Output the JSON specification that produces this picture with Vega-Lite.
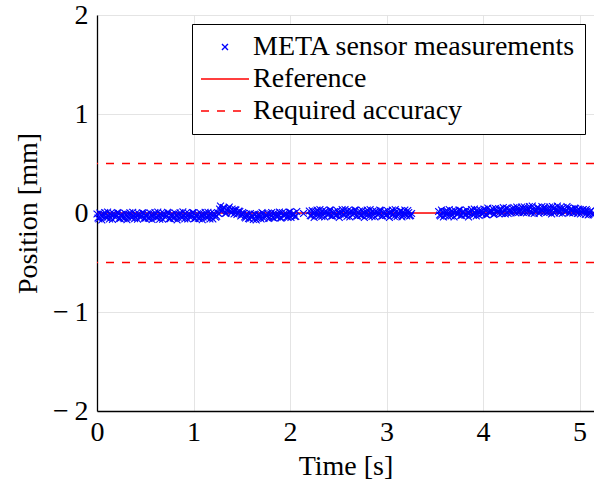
{
  "$schema": "https://vega.github.io/schema/vega-lite/v6.json",
  "width": 497,
  "height": 396,
  "autosize": "none",
  "padding": {"left": 97, "top": 15, "right": 0, "bottom": 75},
  "background": "white",
  "config": {
    "font": "Liberation Serif, Times New Roman, Tinos, DejaVu Serif, serif",
    "view": {"stroke": null},
    "axis": {
      "labelFont": "Liberation Serif, Times New Roman, Tinos, DejaVu Serif, serif",
      "titleFont": "Liberation Serif, Times New Roman, Tinos, DejaVu Serif, serif",
      "labelFontSize": 28, "titleFontSize": 28, "titleFontWeight": "normal",
      "labelColor": "black", "titleColor": "black",
      "domainColor": "black", "domainWidth": 1.3,
      "gridColor": "#dddddd", "gridWidth": 0.8, "ticks": false
    },
    "legend": {
      "orient": "top-right", "offset": 9, "title": null,
      "strokeColor": "black", "fillColor": "white", "padding": 9,
      "labelFont": "Liberation Serif, Times New Roman, Tinos, DejaVu Serif, serif",
      "labelFontSize": 28, "labelColor": "black",
      "labelLimit": 600, "symbolSize": 400, "symbolStrokeWidth": 1.4,
      "rowPadding": 4, "labelOffset": 14, "symbolOffset": 10
    }
  },
  "encoding": {
    "color": {"field": "series", "type": "nominal",
      "scale": {"domain": ["META sensor measurements", "Reference", "Required accuracy"], "range": ["#0000ff", "#ff0000", "#ff0000"]},
      "legend": {"title": null, "labelExpr": "datum.label + '   '"}},
    "shape": {"field": "series", "type": "nominal",
      "scale": {"domain": ["META sensor measurements", "Reference", "Required accuracy"], "range": ["M-0.3,-0.3L0.3,0.3M-0.3,0.3L0.3,-0.3", "M-2.4,0L2.4,0", "M-2.4,0L2.4,0"]},
      "legend": {"title": null, "labelExpr": "datum.label + '   '"}},
    "strokeDash": {"field": "series", "type": "nominal",
      "scale": {"domain": ["META sensor measurements", "Reference", "Required accuracy"], "range": [[1,0],[1,0],[8,8]]},
      "legend": {"title": null, "labelExpr": "datum.label + '   '"}}
  },
  "layer": [
    {
      "data": {"values": [
        {"series": "Required accuracy", "v": 0.5},
        {"series": "Required accuracy", "v": -0.5},
        {"series": "Reference", "v": 0}
      ]},
      "mark": {"type": "rule", "strokeWidth": 1.3},
      "encoding": {
        "y": {"field": "v", "type": "quantitative",
          "scale": {"domain": [-2, 2], "nice": false},
          "axis": {"title": "Position [mm]", "values": [-2,-1,0,1,2], "labelExpr": "datum.value < 0 ? '\u2212\u2009' + format(-datum.value, 'd') : format(datum.value, 'd')", "labelPadding": 9, "titlePadding": 10, "grid": true}}
      }
    },
    {
      "data": {"values": [
        {"t":0,"p":-0.01},{"t":0.02,"p":-0.06},{"t":0.04,"p":-0.02},{"t":0.06,"p":-0.04},{"t":0.08,"p":0.005},{"t":0.1,"p":-0.05},{"t":0.12,"p":-0.03},{"t":0.14,"p":-0.005},{"t":0.16,"p":-0.065},{"t":0.18,"p":-0.015},{"t":0.2,"p":-0.035},{"t":0.22,"p":0.0},{"t":0.24,"p":-0.055},
        {"t":0.26,"p":-0.012},{"t":0.28,"p":-0.058},{"t":0.3,"p":-0.018},{"t":0.32,"p":-0.042},{"t":0.34,"p":0.002},{"t":0.36,"p":-0.048},{"t":0.38,"p":-0.028},{"t":0.4,"p":-0.008},{"t":0.42,"p":-0.062},{"t":0.44,"p":-0.017},{"t":0.46,"p":-0.037},{"t":0.48,"p":-0.003},{"t":0.5,"p":-0.052},
        {"t":0.52,"p":-0.009},{"t":0.54,"p":-0.056},{"t":0.56,"p":-0.022},{"t":0.58,"p":-0.038},{"t":0.6,"p":0.004},{"t":0.62,"p":-0.047},{"t":0.64,"p":-0.031},{"t":0.66,"p":-0.006},{"t":0.68,"p":-0.063},{"t":0.7,"p":-0.013},{"t":0.72,"p":-0.033},{"t":0.74,"p":-0.001},{"t":0.76,"p":-0.057},
        {"t":0.78,"p":-0.011},{"t":0.8,"p":-0.054},{"t":0.82,"p":-0.021},{"t":0.84,"p":-0.043},{"t":0.86,"p":0.003},{"t":0.88,"p":-0.049},{"t":0.9,"p":-0.027},{"t":0.92,"p":-0.004},{"t":0.94,"p":-0.061},{"t":0.96,"p":-0.016},{"t":0.98,"p":-0.036},{"t":1.0,"p":0.001},{"t":1.02,"p":-0.053},
        {"t":1.04,"p":-0.008},{"t":1.06,"p":-0.057},{"t":1.08,"p":-0.019},{"t":1.1,"p":-0.041},{"t":1.12,"p":0.006},{"t":1.14,"p":-0.046},{"t":1.16,"p":-0.029},{"t":1.18,"p":-0.002},{"t":1.2,"p":-0.06},{"t":1.22,"p":-0.014},{"t":1.24,"p":-0.032},
        {"t":1.26,"p":-0.005},{"t":1.28,"p":0.07},{"t":1.3,"p":0.035},{"t":1.32,"p":0.05},{"t":1.34,"p":0.0},{"t":1.36,"p":0.045},{"t":1.38,"p":0.02},{"t":1.4,"p":0.04},{"t":1.42,"p":-0.01},{"t":1.44,"p":0.03},{"t":1.46,"p":-0.005},{"t":1.48,"p":0.015},{"t":1.5,"p":-0.02},{"t":1.52,"p":-0.005},{"t":1.54,"p":-0.05},{"t":1.56,"p":-0.02},{"t":1.58,"p":-0.06},{"t":1.6,"p":-0.03},
        {"t":1.62,"p":-0.065},{"t":1.64,"p":-0.015},{"t":1.66,"p":-0.05},{"t":1.68,"p":-0.02},{"t":1.7,"p":-0.06},{"t":1.72,"p":-0.005},{"t":1.74,"p":-0.04},{"t":1.76,"p":-0.025},{"t":1.78,"p":-0.055},{"t":1.8,"p":-0.01},{"t":1.82,"p":-0.045},{"t":1.84,"p":0.0},{"t":1.86,"p":-0.035},{"t":1.88,"p":-0.015},{"t":1.9,"p":-0.05},{"t":1.92,"p":0.005},{"t":1.94,"p":-0.03},{"t":1.96,"p":-0.01},{"t":1.98,"p":-0.045},{"t":2.0,"p":0.01},{"t":2.02,"p":-0.025},{"t":2.04,"p":-0.005},{"t":2.06,"p":-0.035},
        {"t":2.14,"p":-0.005},
        {"t":2.2,"p":0.02},{"t":2.22,"p":-0.03},{"t":2.24,"p":0.01},{"t":2.26,"p":-0.02},{"t":2.28,"p":0.03},{"t":2.3,"p":-0.035},{"t":2.32,"p":0.0},{"t":2.34,"p":0.025},{"t":2.36,"p":-0.04},{"t":2.38,"p":0.01},{"t":2.4,"p":-0.015},{"t":2.42,"p":0.03},{"t":2.44,"p":-0.03},{"t":2.46,"p":0.015},{"t":2.48,"p":-0.025},{"t":2.5,"p":0.005},
        {"t":2.52,"p":-0.01},{"t":2.54,"p":0.035},{"t":2.56,"p":-0.02},{"t":2.58,"p":0.0},{"t":2.6,"p":0.025},{"t":2.62,"p":-0.04},{"t":2.64,"p":0.015},{"t":2.66,"p":-0.005},{"t":2.68,"p":0.03},{"t":2.7,"p":-0.03},{"t":2.72,"p":0.02},{"t":2.74,"p":-0.025},{"t":2.76,"p":0.005},{"t":2.78,"p":-0.015},{"t":2.8,"p":0.03},
        {"t":2.82,"p":-0.035},{"t":2.84,"p":0.0},{"t":2.86,"p":0.02},{"t":2.88,"p":-0.04},{"t":2.9,"p":0.01},{"t":2.92,"p":-0.01},{"t":2.94,"p":0.025},{"t":2.96,"p":-0.03},{"t":2.98,"p":0.015},{"t":3.0,"p":-0.02},{"t":3.02,"p":0.0},{"t":3.04,"p":-0.005},{"t":3.06,"p":0.03},{"t":3.08,"p":-0.035},
        {"t":3.1,"p":0.01},{"t":3.12,"p":-0.02},{"t":3.14,"p":0.02},{"t":3.16,"p":-0.04},{"t":3.18,"p":0.005},{"t":3.2,"p":-0.015},{"t":3.22,"p":0.025},{"t":3.24,"p":-0.03},{"t":3.26,"p":-0.005},
        {"t":3.54,"p":0.015},{"t":3.56,"p":-0.03},{"t":3.58,"p":0.01},{"t":3.6,"p":-0.02},{"t":3.62,"p":0.025},{"t":3.64,"p":-0.035},{"t":3.66,"p":0.005},{"t":3.68,"p":0.02},{"t":3.7,"p":-0.04},{"t":3.72,"p":0.01},{"t":3.74,"p":-0.01},{"t":3.76,"p":0.03},{"t":3.78,"p":-0.025},{"t":3.8,"p":0.015},{"t":3.82,"p":-0.02},{"t":3.84,"p":0.005},{"t":3.86,"p":-0.005},{"t":3.88,"p":0.035},{"t":3.9,"p":-0.02},
        {"t":3.92,"p":0.0},{"t":3.94,"p":0.03},{"t":3.96,"p":-0.025},{"t":3.98,"p":0.02},{"t":4.0,"p":-0.005},{"t":4.02,"p":0.035},{"t":4.04,"p":-0.02},{"t":4.06,"p":0.015},{"t":4.08,"p":0.01},{"t":4.1,"p":0.045},{"t":4.12,"p":-0.01},{"t":4.14,"p":0.03},{"t":4.16,"p":-0.005},{"t":4.18,"p":0.04},{"t":4.2,"p":0.0},
        {"t":4.22,"p":0.025},{"t":4.24,"p":0.05},{"t":4.26,"p":-0.005},{"t":4.28,"p":0.035},{"t":4.3,"p":0.01},{"t":4.32,"p":0.055},{"t":4.34,"p":0.0},{"t":4.36,"p":0.04},{"t":4.38,"p":0.015},{"t":4.4,"p":0.06},
        {"t":4.42,"p":0.005},{"t":4.44,"p":0.045},{"t":4.46,"p":0.02},{"t":4.48,"p":0.065},{"t":4.5,"p":0.0},{"t":4.52,"p":0.04},{"t":4.54,"p":0.015},{"t":4.56,"p":0.055},{"t":4.58,"p":-0.005},{"t":4.6,"p":0.035},{"t":4.62,"p":0.025},{"t":4.64,"p":0.06},{"t":4.66,"p":0.005},
        {"t":4.68,"p":0.045},{"t":4.7,"p":0.01},{"t":4.72,"p":0.065},{"t":4.74,"p":0.0},{"t":4.76,"p":0.04},{"t":4.78,"p":0.02},{"t":4.8,"p":0.055},{"t":4.82,"p":-0.005},{"t":4.84,"p":0.035},{"t":4.86,"p":0.015},{"t":4.88,"p":0.05},{"t":4.9,"p":0.0},
        {"t":4.92,"p":0.04},{"t":4.94,"p":0.005},{"t":4.96,"p":0.045},{"t":4.98,"p":-0.005},{"t":5.0,"p":0.03},{"t":5.02,"p":0.01},{"t":5.04,"p":0.035},{"t":5.06,"p":-0.015},{"t":5.08,"p":0.02},{"t":5.1,"p":-0.01},{"t":5.12,"p":0.025},{"t":5.14,"p":-0.02},
        {"t":0.01,"p":-0.05},{"t":0.03,"p":0.0},{"t":0.05,"p":-0.07},{"t":0.07,"p":-0.015},{"t":0.09,"p":-0.04},{"t":0.11,"p":0.01},{"t":0.13,"p":-0.06},{"t":0.15,"p":-0.025},{"t":0.17,"p":-0.005},{"t":0.19,"p":-0.045},{"t":0.21,"p":0.005},{"t":0.23,"p":-0.055},{"t":0.25,"p":-0.02},
        {"t":0.27,"p":-0.048},{"t":0.29,"p":-0.002},{"t":0.31,"p":-0.068},{"t":0.33,"p":-0.013},{"t":0.35,"p":-0.038},{"t":0.37,"p":0.008},{"t":0.39,"p":-0.058},{"t":0.41,"p":-0.027},{"t":0.43,"p":-0.007},{"t":0.45,"p":-0.047},{"t":0.47,"p":0.003},{"t":0.49,"p":-0.053},{"t":0.51,"p":-0.022},
        {"t":0.53,"p":-0.051},{"t":0.55,"p":0.002},{"t":0.57,"p":-0.066},{"t":0.59,"p":-0.017},{"t":0.61,"p":-0.042},{"t":0.63,"p":0.009},{"t":0.65,"p":-0.062},{"t":0.67,"p":-0.024},{"t":0.69,"p":-0.004},{"t":0.71,"p":-0.044},{"t":0.73,"p":0.006},{"t":0.75,"p":-0.056},{"t":0.77,"p":-0.019},
        {"t":0.79,"p":-0.049},{"t":0.81,"p":-0.001},{"t":0.83,"p":-0.069},{"t":0.85,"p":-0.014},{"t":0.87,"p":-0.039},{"t":0.89,"p":0.011},{"t":0.91,"p":-0.059},{"t":0.93,"p":-0.026},{"t":0.95,"p":-0.006},{"t":0.97,"p":-0.046},{"t":0.99,"p":0.004},{"t":1.01,"p":-0.054},{"t":1.03,"p":-0.021},
        {"t":1.05,"p":-0.052},{"t":1.07,"p":0.001},{"t":1.09,"p":-0.067},{"t":1.11,"p":-0.016},{"t":1.13,"p":-0.041},{"t":1.15,"p":0.007},{"t":1.17,"p":-0.061},{"t":1.19,"p":-0.023},{"t":1.21,"p":-0.003},{"t":1.23,"p":-0.043},{"t":1.25,"p":0.004},
        {"t":1.27,"p":0.04},{"t":1.29,"p":0.015},{"t":1.31,"p":0.055},{"t":1.33,"p":-0.005},{"t":1.35,"p":0.03},{"t":1.37,"p":0.06},{"t":1.39,"p":0.0},{"t":1.41,"p":0.025},
        {"t":1.43,"p":0.035},{"t":1.45,"p":-0.015},{"t":1.47,"p":0.02},{"t":1.49,"p":-0.03},{"t":1.51,"p":0.005},{"t":1.53,"p":-0.04},{"t":1.55,"p":-0.01},{"t":1.57,"p":-0.055},{"t":1.59,"p":-0.005},
        {"t":1.61,"p":-0.04},{"t":1.63,"p":-0.01},{"t":1.65,"p":-0.07},{"t":1.67,"p":-0.015},{"t":1.69,"p":-0.045},{"t":1.71,"p":0.005},{"t":1.73,"p":-0.055},{"t":1.75,"p":-0.02},{"t":1.77,"p":-0.005},{"t":1.79,"p":-0.045},{"t":1.81,"p":0.005},{"t":1.83,"p":-0.05},
        {"t":1.85,"p":-0.015},{"t":1.87,"p":-0.04},{"t":1.89,"p":0.01},{"t":1.91,"p":-0.05},{"t":1.93,"p":-0.02},{"t":1.95,"p":0.0},{"t":1.97,"p":-0.04},{"t":1.99,"p":0.01},{"t":2.01,"p":-0.045},{"t":2.03,"p":-0.01},{"t":2.05,"p":-0.035},{"t":2.07,"p":0.015},
        {"t":2.21,"p":-0.025},{"t":2.23,"p":0.025},{"t":2.25,"p":-0.045},{"t":2.27,"p":0.01},{"t":2.29,"p":-0.015},{"t":2.31,"p":0.035},{"t":2.33,"p":-0.035},{"t":2.35,"p":0.0},{"t":2.37,"p":0.02},{"t":2.39,"p":-0.02},{"t":2.41,"p":0.03},{"t":2.43,"p":-0.03},{"t":2.45,"p":0.005},
        {"t":2.47,"p":-0.025},{"t":2.49,"p":0.025},{"t":2.51,"p":-0.045},{"t":2.53,"p":0.01},{"t":2.55,"p":-0.015},{"t":2.57,"p":0.035},{"t":2.59,"p":-0.035},{"t":2.61,"p":0.0},{"t":2.63,"p":0.02},{"t":2.65,"p":-0.02},{"t":2.67,"p":0.03},{"t":2.69,"p":-0.03},{"t":2.71,"p":0.005},
        {"t":2.73,"p":-0.025},{"t":2.75,"p":0.025},{"t":2.77,"p":-0.045},{"t":2.79,"p":0.01},{"t":2.81,"p":-0.015},{"t":2.83,"p":0.035},{"t":2.85,"p":-0.035},{"t":2.87,"p":0.0},{"t":2.89,"p":0.02},{"t":2.91,"p":-0.02},{"t":2.93,"p":0.03},{"t":2.95,"p":-0.03},{"t":2.97,"p":0.005},
        {"t":2.99,"p":-0.025},{"t":3.01,"p":0.025},{"t":3.03,"p":-0.045},{"t":3.05,"p":0.01},{"t":3.07,"p":-0.015},{"t":3.09,"p":0.035},{"t":3.11,"p":-0.035},{"t":3.13,"p":0.0},{"t":3.15,"p":0.02},{"t":3.17,"p":-0.02},{"t":3.19,"p":0.03},{"t":3.21,"p":-0.03},{"t":3.23,"p":0.005},{"t":3.25,"p":-0.025},
        {"t":3.55,"p":-0.02},{"t":3.57,"p":0.03},{"t":3.59,"p":-0.04},{"t":3.61,"p":0.015},{"t":3.63,"p":-0.01},{"t":3.65,"p":0.035},{"t":3.67,"p":-0.03},{"t":3.69,"p":0.005},{"t":3.71,"p":0.025},{"t":3.73,"p":-0.015},{"t":3.75,"p":0.03},{"t":3.77,"p":-0.025},{"t":3.79,"p":0.01},
        {"t":3.81,"p":-0.02},{"t":3.83,"p":0.03},{"t":3.85,"p":-0.04},{"t":3.87,"p":0.015},{"t":3.89,"p":-0.01},{"t":3.91,"p":0.04},
        {"t":3.93,"p":-0.03},{"t":3.95,"p":0.01},{"t":3.97,"p":0.03},{"t":3.99,"p":-0.01},{"t":4.01,"p":0.04},{"t":4.03,"p":-0.015},{"t":4.05,"p":0.05},{"t":4.07,"p":0.0},{"t":4.09,"p":0.02},{"t":4.11,"p":-0.015},{"t":4.13,"p":0.045},{"t":4.15,"p":0.01},{"t":4.17,"p":0.035},
        {"t":4.19,"p":-0.005},{"t":4.21,"p":0.055},{"t":4.23,"p":-0.01},{"t":4.25,"p":0.045},{"t":4.27,"p":0.02},{"t":4.29,"p":0.0},{"t":4.31,"p":0.04},{"t":4.33,"p":0.015},{"t":4.35,"p":0.06},{"t":4.37,"p":0.005},{"t":4.39,"p":0.035},{"t":4.41,"p":0.01},
        {"t":4.43,"p":0.06},{"t":4.45,"p":0.0},{"t":4.47,"p":0.045},{"t":4.49,"p":0.02},{"t":4.51,"p":0.07},{"t":4.53,"p":-0.005},{"t":4.55,"p":0.035},{"t":4.57,"p":0.055},{"t":4.59,"p":0.015},{"t":4.61,"p":0.065},{"t":4.63,"p":0.005},{"t":4.65,"p":0.04},{"t":4.67,"p":0.01},
        {"t":4.69,"p":0.06},{"t":4.71,"p":-0.01},{"t":4.73,"p":0.045},{"t":4.75,"p":0.02},{"t":4.77,"p":0.07},{"t":4.79,"p":0.0},{"t":4.81,"p":0.035},{"t":4.83,"p":0.055},{"t":4.85,"p":0.015},{"t":4.87,"p":0.065},{"t":4.89,"p":0.005},{"t":4.91,"p":0.04},
        {"t":4.93,"p":0.0},{"t":4.95,"p":0.05},{"t":4.97,"p":0.015},{"t":4.99,"p":0.04},{"t":5.01,"p":-0.01},{"t":5.03,"p":0.03},{"t":5.05,"p":0.01},{"t":5.07,"p":0.035},{"t":5.09,"p":-0.02},{"t":5.11,"p":0.015},{"t":5.13,"p":-0.01}
      ]},
      "transform": [{"calculate": "'META sensor measurements'", "as": "series"}],
      "mark": {"type": "point", "filled": false, "strokeWidth": 1.1, "size": 520, "opacity": 1},
      "encoding": {
        "x": {"field": "t", "type": "quantitative",
          "scale": {"domain": [0, 5.15], "nice": false, "zero": false},
          "axis": {"title": "Time [s]", "values": [0,1,2,3,4,5], "format": "d", "labelFlush": false, "labelPadding": 7, "titlePadding": 6, "grid": true}},
        "y": {"field": "p", "type": "quantitative",
          "scale": {"domain": [-2, 2], "nice": false},
          "axis": {"title": "Position [mm]", "values": [-2,-1,0,1,2], "labelExpr": "datum.value < 0 ? '\u2212\u2009' + format(-datum.value, 'd') : format(datum.value, 'd')", "labelPadding": 9, "titlePadding": 10, "grid": true}}
      }
    }
  ]
}
